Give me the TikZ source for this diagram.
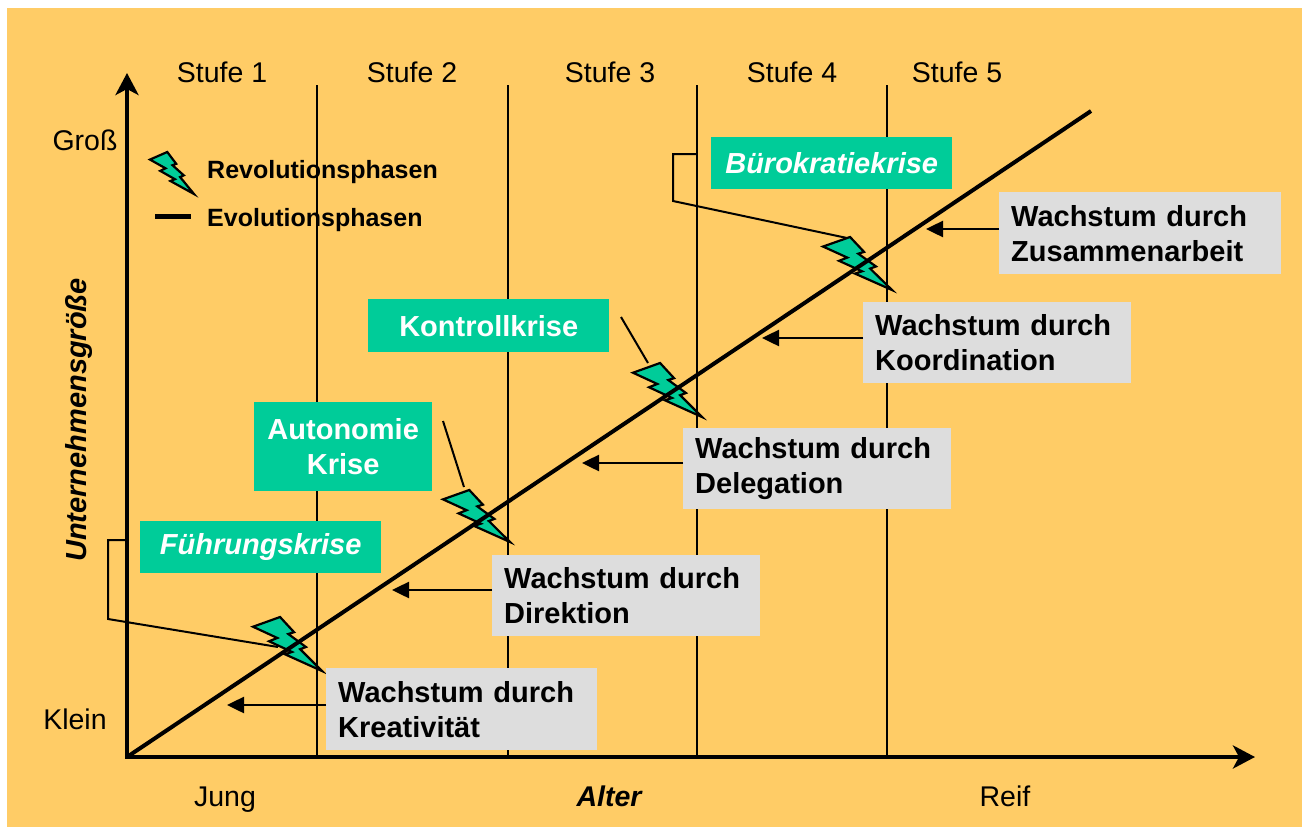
\documentclass[tikz,border=0pt]{standalone}
\usepackage{fontspec}
\setmainfont{Liberation Sans}
\usetikzlibrary{arrows.meta}
\definecolor{bg}{HTML}{FFCC66}
\definecolor{grn}{HTML}{00CC99}
\definecolor{gry}{HTML}{DDDDDD}
\newcommand{\drawbolt}[4]{%
  \begin{scope}[shift={(#1,#2)},xscale=#3,yscale=#4]
    \filldraw[boltstyle]
    (0.3922,0) -- (0.5954,0.2815) -- (0.5116,0.3147) -- (0.7675,0.5559) -- (0.6837,0.5962) -- (1,1)
    -- (0.4635,0.6905) -- (0.5658,0.6475) -- (0.2325,0.4493) -- (0.3519,0.3881) -- (0,0.1801) -- cycle;
  \end{scope}}
\begin{document}
\begin{tikzpicture}[x=1pt,y=-1pt,
  lbl/.style={font=\fontsize{28.5}{34}\selectfont, inner sep=0, anchor=base},
  crisis/.style={fill=grn, text=white, font=\fontsize{29}{35}\selectfont\bfseries, align=center, inner sep=0, anchor=north west},
  growth/.style={fill=gry, font=\fontsize{29}{35}\selectfont\bfseries, align=left, inner xsep=12pt, inner ysep=0, anchor=north west, minimum height=82pt},
  legendtext/.style={font=\fontsize{25}{30}\selectfont\bfseries, inner sep=0, anchor=base west},
  stage/.style={line width=2pt},
  axisline/.style={line width=4.5pt, line join=miter, {Stealth[length=22pt,width=23pt,inset=6pt]}-{Stealth[length=22pt,width=23pt,inset=6pt]}},
  growarrow/.style={line width=2.5pt, -{Triangle[length=17pt,width=16pt]}},
  callout/.style={line width=2pt, line join=miter},
  boltstyle/.style={fill=grn, draw=black, line width=2.2pt, line join=miter}
]
\useasboundingbox (0,0) rectangle (1302,827);
\fill[bg] (7,8) rectangle (1302,827);

% stage lines
\foreach \xx in {317,508,697,887} \draw[stage] (\xx,85) -- (\xx,757);

% stage labels
\node[lbl] (s1) at (222,82) {Stufe 1};
\node[lbl] (s2) at (412,82) {Stufe 2};
\node[lbl] (s3) at (610,82) {Stufe 3};
\node[lbl] (s4) at (792,82) {Stufe 4};
\node[lbl] (s5) at (957,82) {Stufe 5};

% axis labels
\node[lbl] (gross) at (85,150) {Groß};
\node[lbl] (klein) at (75,729) {Klein};
\node[lbl] (jung) at (225,806) {Jung};
\node[lbl, font=\fontsize{28.5}{34}\selectfont\bfseries\itshape] (alter) at (609,806) {Alter};
\node[lbl] (reif) at (1005,806) {Reif};
\node[lbl, rotate=90, font=\fontsize{29}{34}\selectfont\bfseries\itshape] (ug) at (86,420) {Unternehmensgröße};

% legend
\drawbolt{150}{152}{44}{42}
\node[legendtext] (rev) at (207,178) {Revolutionsphasen};
\coordinate (la) at (155,216);
\coordinate (lb) at (191,216);
\draw[line width=5pt] (la) -- (lb);
\node[legendtext] (evo) at (207,226) {Evolutionsphasen};

% bolts
\drawbolt{823}{237}{69}{53}
\drawbolt{633}{363}{69}{54}
\drawbolt{443}{490}{67}{52}
\drawbolt{253}{617}{69}{54}

% axes and diagonal
\coordinate (ytip) at (127,73);
\coordinate (o) at (127,757);
\coordinate (xtip) at (1255,757);
\coordinate (dend) at (1091,111);
\draw[axisline] (ytip) -- (o) -- (xtip);
\draw[line width=4pt] (o) -- (dend);

% crisis boxes
\node[crisis, minimum width=241pt, minimum height=52pt, font=\fontsize{29}{35}\selectfont\bfseries\itshape] (buero) at (711,137) {Bürokratiekrise};
\node[crisis, minimum width=241pt, minimum height=53pt] (kontroll) at (368,299) {Kontrollkrise};
\node[crisis, minimum width=178pt, minimum height=89pt] (auto) at (254,402) {Autonomie\\Krise};
\node[crisis, minimum width=241pt, minimum height=52pt, font=\fontsize{29}{35}\selectfont\bfseries\itshape] (fuehr) at (140,521) {Führungskrise};

% callouts
\coordinate (b1) at (697,154);
\coordinate (b2) at (673,154);
\coordinate (b3) at (673,201);
\coordinate (b4) at (847,238);
\draw[callout] (b1) -- (b2) -- (b3) -- (b4);
\coordinate (f1) at (125,540);
\coordinate (f2) at (108,540);
\coordinate (f3) at (108,619);
\coordinate (f4) at (278,647);
\draw[callout] (f1) -- (f2) -- (f3) -- (f4);
\coordinate (k1) at (621,317);
\coordinate (k2) at (648,363);
\draw[callout] (k1) -- (k2);
\coordinate (a1) at (443,421);
\coordinate (a2) at (464,487);
\draw[callout] (a1) -- (a2);

% growth boxes
\node[growth, text width=247pt] (kreat) at (326,668) {Wachstum durch\\Kreativität};
\node[growth, text width=244pt, minimum height=81pt] (direk) at (492,555) {Wachstum durch\\Direktion};
\node[growth, text width=244pt, minimum height=81pt] (deleg) at (683,428) {Wachstum durch\\Delegation};
\node[growth, text width=244pt, minimum height=81pt] (koord) at (863,302) {Wachstum durch\\Koordination};
\node[growth, text width=258pt] (zus) at (999,192) {Wachstum durch\\Zusammenarbeit};

% growth arrows
\coordinate (t1) at (227,705);
\coordinate (t2) at (392,590);
\coordinate (t3) at (582,463);
\coordinate (t4) at (762,338);
\coordinate (t5) at (926,229);
\draw[growarrow] (kreat.west |- t1) -- (t1);
\draw[growarrow] (direk.west |- t2) -- (t2);
\draw[growarrow] (deleg.west |- t3) -- (t3);
\draw[growarrow] (koord.west |- t4) -- (t4);
\draw[growarrow] (zus.west |- t5) -- (t5);
\end{tikzpicture}
\end{document}
